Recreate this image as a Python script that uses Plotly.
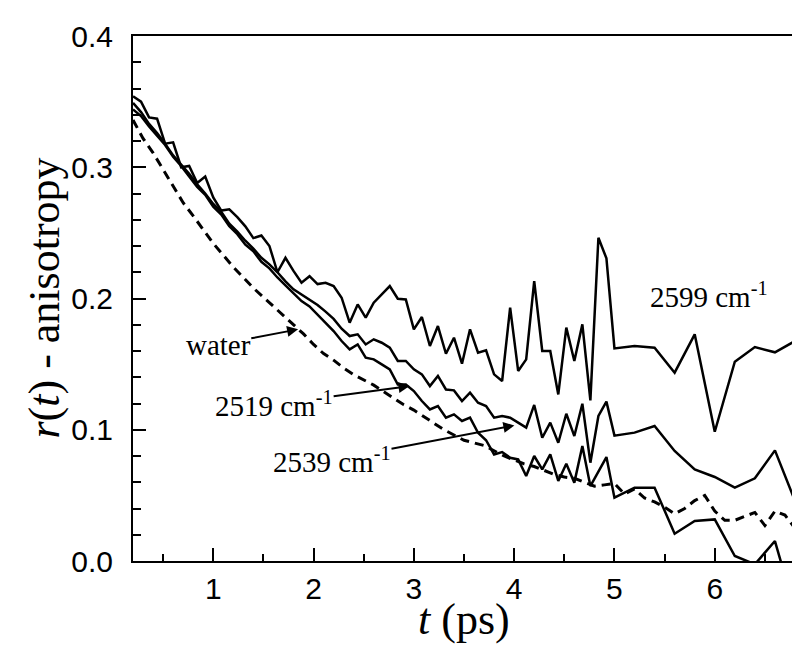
import plotly.graph_objects as go

# time grid (ps) of the three solid curves
t_main = [0.20, 0.28, 0.36, 0.44, 0.52, 0.60, 0.68, 0.76, 0.84, 0.92,
          1.00, 1.08, 1.16, 1.24, 1.32, 1.40, 1.48, 1.56, 1.64, 1.72,
          1.80, 1.88, 1.96, 2.04, 2.12, 2.20, 2.28, 2.36, 2.44, 2.52,
          2.60, 2.68, 2.76, 2.84, 2.92, 3.00, 3.08, 3.16, 3.24, 3.32,
          3.40, 3.48, 3.56, 3.64, 3.72, 3.80, 3.88, 3.96, 4.04, 4.12,
          4.20, 4.28, 4.36, 4.44, 4.52, 4.60, 4.68, 4.76, 4.84, 4.92,
          5.00, 5.20, 5.40, 5.60, 5.80, 6.00, 6.20, 6.40, 6.60, 6.80]

r_2599 = [0.354, 0.350, 0.338, 0.337, 0.318, 0.319, 0.300, 0.301, 0.288, 0.293,
          0.277, 0.267, 0.268, 0.262, 0.255, 0.246, 0.248, 0.240, 0.220, 0.231,
          0.221, 0.212, 0.217, 0.211, 0.212, 0.2095, 0.2006, 0.1816, 0.1955, 0.1854,
          0.1968, 0.2031, 0.2095, 0.1998, 0.1993, 0.1765, 0.1859, 0.1638, 0.179, 0.1579,
          0.1701, 0.1503, 0.1765, 0.1587, 0.1605, 0.1422, 0.1371, 0.193, 0.1448, 0.1536,
          0.2133, 0.160, 0.160, 0.1269, 0.1778, 0.1524, 0.1803, 0.1224, 0.2463, 0.2306,
          0.162, 0.1638, 0.1625, 0.1435, 0.1727, 0.0985, 0.1518, 0.163, 0.159, 0.1676]

r_2539 = [0.349, 0.342, 0.333, 0.326, 0.318, 0.309, 0.302, 0.295, 0.287, 0.280,
          0.272, 0.266, 0.257, 0.251, 0.244, 0.238, 0.231, 0.226, 0.220, 0.213,
          0.207, 0.203, 0.199, 0.195, 0.190, 0.1845, 0.177, 0.1714, 0.1727, 0.165,
          0.1689, 0.1663, 0.1625, 0.1524, 0.1524, 0.146, 0.1422, 0.1333, 0.141, 0.1307,
          0.130, 0.1219, 0.1282, 0.1206, 0.1181, 0.1092, 0.1105, 0.1092, 0.1054, 0.1016,
          0.1189, 0.0939, 0.1054, 0.0901, 0.1122, 0.0952, 0.1198, 0.0749, 0.1105, 0.1214,
          0.0955, 0.0978, 0.1029, 0.0838, 0.0698, 0.064, 0.0559, 0.063, 0.0843, 0.0457]

r_2519 = [0.344, 0.339, 0.331, 0.324, 0.317, 0.308, 0.301, 0.293, 0.285, 0.279,
          0.270, 0.264, 0.255, 0.249, 0.241, 0.236, 0.228, 0.223, 0.216, 0.210,
          0.204, 0.198, 0.194, 0.188, 0.1815, 0.1752, 0.1676, 0.1612, 0.165, 0.1549,
          0.1536, 0.1498, 0.146, 0.1345, 0.1345, 0.1295, 0.1219, 0.1155, 0.1181, 0.1092,
          0.1117, 0.1067, 0.1092, 0.0977, 0.092, 0.0812, 0.083, 0.0787, 0.0774, 0.0648,
          0.080, 0.0698, 0.0812, 0.061, 0.0741, 0.0597, 0.0876, 0.0571, 0.068, 0.0792,
          0.0482, 0.0559, 0.0559, 0.0208, 0.0305, 0.0317, 0.0038, -0.0025, 0.0152, -0.038]

# water (dashed)
t_water = [0.2, 0.3, 0.4, 0.5, 0.6, 0.7, 0.8, 0.9, 1.0, 1.1,
           1.2, 1.3, 1.4, 1.5, 1.6, 1.7, 1.8, 1.9, 2.0, 2.1,
           2.2, 2.3, 2.4, 2.5, 2.6, 2.7, 2.8, 2.9, 3.0, 3.1,
           3.2, 3.3, 3.4, 3.5, 3.6, 3.7, 3.8, 3.9, 4.0, 4.1,
           4.2, 4.3, 4.4, 4.5, 4.6, 4.7, 4.8, 4.9, 5.0, 5.1,
           5.2, 5.3, 5.4, 5.5, 5.6, 5.7, 5.8, 5.9, 6.0, 6.1,
           6.2, 6.3, 6.4, 6.5, 6.6, 6.7, 6.8]
r_water = [0.336, 0.322, 0.311, 0.298, 0.285, 0.273, 0.263, 0.252, 0.242, 0.233,
           0.224, 0.216, 0.208, 0.201, 0.194, 0.187, 0.180, 0.173, 0.165, 0.158,
           0.153, 0.147, 0.142, 0.138, 0.134, 0.129, 0.124, 0.119, 0.115, 0.110,
           0.105, 0.100, 0.096, 0.092, 0.090, 0.088, 0.084, 0.080, 0.077, 0.074,
           0.072, 0.069, 0.066, 0.064, 0.063, 0.060, 0.057, 0.058, 0.059, 0.051,
           0.055, 0.048, 0.045, 0.041, 0.036, 0.040, 0.046, 0.050, 0.038, 0.031,
           0.031, 0.034, 0.037, 0.027, 0.038, 0.035, 0.025]

# axis titles
x_title = "<i>t</i> (ps)"
y_title = "<i>r</i>(<i>t</i>) - anisotropy"

# plain label (no arrow)
label_2599 = "2599 cm<sup>-1</sup>"
label_2599_xy = (5.33, 0.203)

# arrowed labels: text centre (tx, ty) -> arrow head (hx, hy)
arrow_texts = ["water", "2519 cm<sup>-1</sup>", "2539 cm<sup>-1</sup>"]
arrow_tx = [1.05, 1.607, 2.184]
arrow_ty = [0.1648, 0.1195, 0.0770]
arrow_hx = [1.846, 2.957, 4.002]
arrow_hy = [0.1765, 0.1333, 0.1033]

fig = go.Figure()
solid = dict(color="black", width=2.5)
for ys, name in [(r_2599, "2599"), (r_2539, "2539"), (r_2519, "2519")]:
    fig.add_trace(go.Scatter(x=t_main, y=ys, mode="lines", line=solid, name=name))
fig.add_trace(go.Scatter(x=t_water, y=r_water, mode="lines",
                         line=dict(color="black", width=3, dash="9px,6px"), name="water"))

serif = "Liberation Serif, Times New Roman, serif"
sans = "Liberation Sans, Arial, sans-serif"
ann_font = dict(family=serif, size=29, color="black")
title_font = dict(family=serif, size=44, color="black")

fig.add_annotation(x=label_2599_xy[0], y=label_2599_xy[1], text=label_2599, showarrow=False,
                   xanchor="left", yanchor="middle", font=ann_font)
for txt, tx, ty, hx, hy in zip(arrow_texts, arrow_tx, arrow_ty, arrow_hx, arrow_hy):
    fig.add_annotation(x=hx, y=hy, ax=tx, ay=ty, xref="x", yref="y", axref="x", ayref="y",
                       text=txt, font=ann_font, showarrow=True, arrowhead=2, arrowsize=1.1,
                       arrowwidth=2, arrowcolor="black", standoff=0, borderpad=0)

# axis titles as paper-positioned text
fig.add_annotation(x=0.5, y=-0.112, xref="paper", yref="paper", text=x_title, showarrow=False,
                   xanchor="center", yanchor="middle", font=title_font)
fig.add_annotation(x=-0.1344, y=0.5, xref="paper", yref="paper", text=y_title, showarrow=False,
                   textangle=-90, xanchor="center", yanchor="middle", font=title_font)

fig.update_layout(
    width=800, height=656,
    margin=dict(l=125, r=13, t=28, b=103),
    paper_bgcolor="white", plot_bgcolor="white",
    showlegend=False,
    xaxis=dict(range=[0.2, 6.8], tick0=0, dtick=1, ticks="inside", ticklen=13, tickwidth=2,
               tickcolor="black", showline=True, linecolor="black", linewidth=2, mirror=True,
               showgrid=False, zeroline=False,
               tickfont=dict(family=sans, size=30, color="black"), ticklabelstandoff=0,
               minor=dict(ticks="inside", ticklen=7, tickwidth=2, tickcolor="black", dtick=0.5,
                          tick0=0, showgrid=False)),
    yaxis=dict(range=[0, 0.4], tick0=0, dtick=0.1, tickformat=".1f", ticks="inside", ticklen=13,
               tickwidth=2, tickcolor="black", showline=True, linecolor="black", linewidth=2,
               mirror=True, showgrid=False, zeroline=False,
               tickfont=dict(family=sans, size=30, color="black"), ticklabelstandoff=12,
               minor=dict(ticks="inside", ticklen=8, tickwidth=2, tickcolor="black", dtick=0.02,
                          tick0=0, showgrid=False)),
)

fig.write_html("out.html")
